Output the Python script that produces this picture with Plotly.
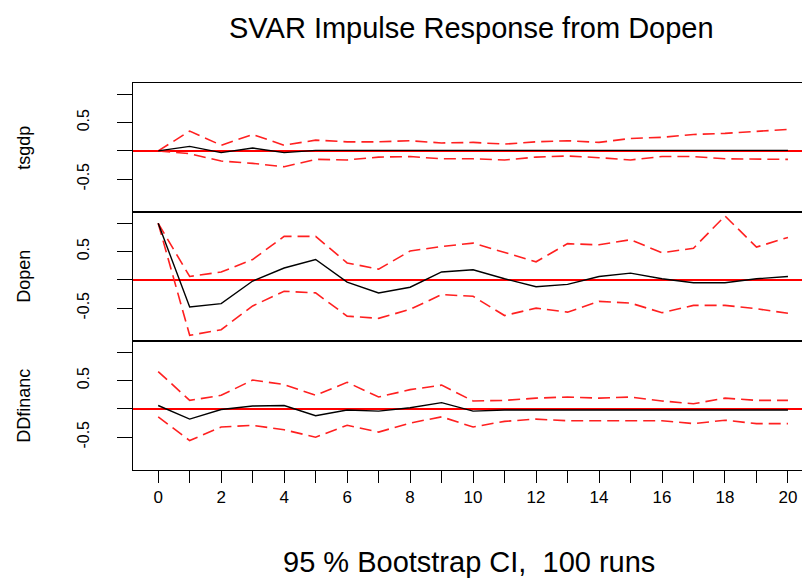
import plotly.graph_objects as go

steps = list(range(21))
panel_names = ["tsgdp", "Dopen", "DDfinanc"]

tsgdp_irf = [0.0, 0.08, -0.03, 0.05, -0.03, 0.01, 0.01, 0.01, 0.01, 0.01, 0.01,
             0.01, 0.01, 0.01, 0.01, 0.01, 0.01, 0.01, 0.01, 0.01, 0.01]
tsgdp_upper = [0.0, 0.35, 0.10, 0.29, 0.10, 0.19, 0.16, 0.16, 0.18, 0.14, 0.15,
               0.12, 0.16, 0.18, 0.15, 0.22, 0.24, 0.29, 0.31, 0.34, 0.38]
tsgdp_lower = [0.0, -0.05, -0.18, -0.22, -0.28, -0.15, -0.16, -0.11, -0.10, -0.14, -0.14,
               -0.16, -0.11, -0.09, -0.12, -0.16, -0.10, -0.10, -0.14, -0.15, -0.15]

dopen_irf = [1.0, -0.48, -0.42, -0.02, 0.21, 0.36, -0.04, -0.23, -0.13, 0.14, 0.18,
             0.02, -0.12, -0.08, 0.06, 0.12, 0.02, -0.05, -0.05, 0.02, 0.06]
dopen_upper = [1.0, 0.06, 0.14, 0.36, 0.77, 0.77, 0.30, 0.19, 0.51, 0.59, 0.65,
               0.48, 0.32, 0.64, 0.62, 0.71, 0.48, 0.56, 1.13, 0.58, 0.75]
dopen_lower = [1.0, -0.98, -0.88, -0.46, -0.20, -0.23, -0.64, -0.68, -0.52, -0.26, -0.29,
               -0.63, -0.50, -0.57, -0.38, -0.41, -0.58, -0.45, -0.45, -0.51, -0.59]

ddfinanc_irf = [0.06, -0.18, -0.01, 0.05, 0.06, -0.12, -0.02, -0.04, 0.02, 0.11, -0.04,
                -0.02, -0.02, -0.02, -0.02, -0.02, -0.02, -0.02, -0.02, -0.02, -0.02]
ddfinanc_upper = [0.66, 0.15, 0.24, 0.51, 0.43, 0.24, 0.47, 0.21, 0.34, 0.42, 0.14,
                  0.15, 0.19, 0.21, 0.19, 0.21, 0.14, 0.09, 0.19, 0.15, 0.15]
ddfinanc_lower = [-0.14, -0.56, -0.32, -0.29, -0.37, -0.50, -0.29, -0.41, -0.25, -0.14, -0.32,
                  -0.22, -0.18, -0.21, -0.21, -0.21, -0.21, -0.26, -0.20, -0.26, -0.26]

y_tickvals = [-0.5, 0, 0.5, 1.0]
y_ticktext = ["-0.5", "", "0.5", ""]
x_ticktext = [str(s) if s % 2 == 0 else "" for s in steps]

title_text = "SVAR Impulse Response from Dopen"
bottom_text = "95 % Bootstrap CI,  100 runs"

panels = [
    (tsgdp_irf, tsgdp_upper, tsgdp_lower),
    (dopen_irf, dopen_upper, dopen_lower),
    (ddfinanc_irf, ddfinanc_upper, ddfinanc_lower),
]

FONT = "Liberation Sans, Arial, sans-serif"
fig = go.Figure()
domains = [[2 / 3, 1.0], [1 / 3, 2 / 3], [0.0, 1 / 3]]

for i, (irf, up, lo) in enumerate(panels):
    n = i + 1
    xa = "x" if n == 1 else f"x{n}"
    ya = "y" if n == 1 else f"y{n}"
    for band in (up, lo):
        fig.add_trace(go.Scatter(x=steps, y=band, mode="lines", xaxis=xa, yaxis=ya,
                                 line=dict(color="#ff2020", width=1.6, dash="12px,6px"),
                                 showlegend=False, hoverinfo="skip"))
    fig.add_trace(go.Scatter(x=steps, y=irf, mode="lines", xaxis=xa, yaxis=ya,
                             line=dict(color="black", width=1.4),
                             showlegend=False, hoverinfo="skip"))

    last = n == 3
    xkey = "xaxis" if n == 1 else f"xaxis{n}"
    ykey = "yaxis" if n == 1 else f"yaxis{n}"
    fig.layout[xkey] = dict(
        domain=[0, 1], anchor=ya, range=[-0.8, 20.7], automargin=False,
        showline=True, linecolor="black", linewidth=1, mirror=True,
        showgrid=False, zeroline=False,
        tickmode="array", tickvals=steps,
        ticktext=x_ticktext if last else [""] * len(steps),
        ticks="outside" if last else "", ticklen=12, tickwidth=1, tickcolor="black",
        showticklabels=last,
        tickfont=dict(family=FONT, size=17, color="black"),
    )
    fig.layout[ykey] = dict(
        domain=domains[i], anchor=xa, range=[-1.08, 1.2], automargin=False,
        showline=True, linecolor="black", linewidth=1, mirror=False,
        showgrid=False, zeroline=True, zerolinecolor="#ff0000", zerolinewidth=2,
        tickmode="array", tickvals=y_tickvals, ticktext=y_ticktext,
        ticks="outside", ticklen=15, tickwidth=1, tickcolor="black",
        tickangle=-90, ticklabelstandoff=22,
        tickfont=dict(family=FONT, size=16, color="black"),
    )
    fig.add_annotation(text=panel_names[i], xref="paper", yref="paper",
                       x=-0.162, y=(domains[i][0] + domains[i][1]) / 2,
                       xanchor="center", yanchor="middle", textangle=-90,
                       showarrow=False, font=dict(family=FONT, size=18, color="black"))

fig.add_annotation(text=title_text, xref="paper", yref="paper", x=0.5, y=1.142,
                   xanchor="center", yanchor="middle", showarrow=False,
                   font=dict(family=FONT, size=29, color="black"))
fig.add_annotation(text=bottom_text, xref="paper", yref="paper", x=0.497, y=-0.238,
                   xanchor="center", yanchor="middle", showarrow=False,
                   font=dict(family=FONT, size=29, color="black"))

# The page body adds an 8px offset, so the figure is sized to end at the window edge.
fig.update_layout(
    width=802, height=571,
    margin=dict(l=125, r=0, t=75, b=109, autoexpand=False),
    paper_bgcolor="white", plot_bgcolor="white",
)

fig.write_html("out.html")
